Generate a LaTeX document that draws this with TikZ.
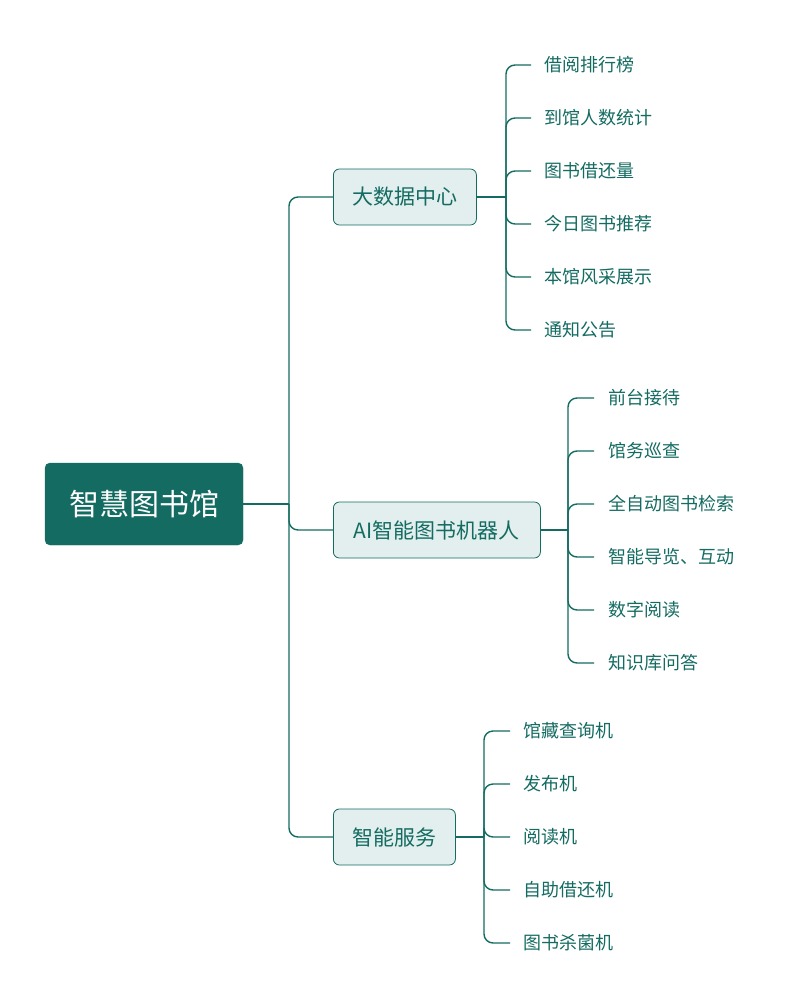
\documentclass[tikz,border=0pt]{standalone}
\usepackage{fontspec}
\setmainfont{Noto Sans CJK SC}
\definecolor{teal1}{HTML}{136B61}
\definecolor{lightfill}{HTML}{E2EFEE}
\tikzset{
  rootbox/.style={fill=teal1, draw=teal1, rounded corners=5pt, text=white, font=\fontsize{30}{32}\selectfont, minimum width=198pt, minimum height=82pt, inner sep=0pt},
  catbox/.style={fill=lightfill, draw=teal1, line width=0.8pt, rounded corners=6pt, text=teal1, font=\fontsize{21}{23}\selectfont, minimum height=56pt, inner sep=0pt, anchor=west},
  leaf/.style={text=teal1, font=\fontsize{18}{20}\selectfont, anchor=west, inner sep=0pt},
  conn/.style={draw=teal1, line width=1.4pt, rounded corners=9pt},
  stub/.style={draw=teal1, line width=2pt},
}
\begin{document}
\begin{tikzpicture}[x=1pt,y=-1pt]
\useasboundingbox (0,0) rectangle (792,1006);
\node[rootbox] (root) at (144,504) {智慧图书馆};
\node[catbox, minimum width=143pt] (c1) at (333,197) {大数据中心};
\node[catbox, minimum width=207pt] (c2) at (333,530) {AI智能图书机器人};
\node[catbox, minimum width=122pt] (c3) at (333,837) {智能服务};
% trunk
\coordinate (tj) at (289,504);
\draw[stub] (root.east) -- (tj);
\draw[conn] (tj) |- (c1.west);
\draw[conn] (tj) |- (c2.west);
\draw[conn] (tj) |- (c3.west);
% category 1
\coordinate (j1) at (506,197);
\draw[stub] (c1.east) -- (j1);
\foreach \t [count=\i] in {借阅排行榜,到馆人数统计,图书借还量,今日图书推荐,本馆风采展示,通知公告}{
  \node[leaf] (a\i) at (544,{65+53*(\i-1)}) {\t};
  \coordinate (ae\i) at (531,{65+53*(\i-1)});
  \draw[conn] (j1) |- (ae\i);
}
% category 2
\coordinate (j2) at (568,530);
\draw[stub] (c2.east) -- (j2);
\foreach \t [count=\i] in {前台接待,馆务巡查,全自动图书检索,智能导览、互动,数字阅读,知识库问答}{
  \node[leaf] (b\i) at (608,{398+53*(\i-1)}) {\t};
  \coordinate (be\i) at (594,{398+53*(\i-1)});
  \draw[conn] (j2) |- (be\i);
}
% category 3
\coordinate (j3) at (484,837);
\draw[stub] (c3.east) -- (j3);
\foreach \t [count=\i] in {馆藏查询机,发布机,阅读机,自助借还机,图书杀菌机}{
  \node[leaf] (d\i) at (523,{731+53*(\i-1)}) {\t};
  \coordinate (de\i) at (510,{731+53*(\i-1)});
  \draw[conn] (j3) |- (de\i);
}
\end{tikzpicture}
\end{document}
